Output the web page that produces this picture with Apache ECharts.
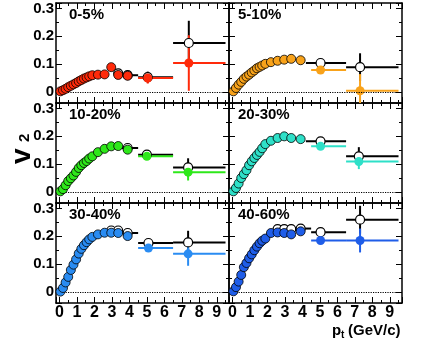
<!DOCTYPE html>
<html>
<head>
<meta charset="utf-8">
<script src="https://cdn.jsdelivr.net/npm/echarts@6/dist/echarts.min.js"></script>
<style>
html, body { margin: 0; padding: 0; background: #fff; }
#chart { width: 422px; height: 341px; }
</style>
</head>
<body>
<div id="chart"></div>
<script>
// pt of the low-pt filled points (GeV/c), same bins in every panel
var ptLow = [0.05, 0.2, 0.35, 0.5, 0.65, 0.8, 0.95, 1.1, 1.25, 1.4, 1.55, 1.7, 1.88, 2.2, 2.58, 2.96, 3.36, 3.9];

var centLabels = ["0-5%", "5-10%", "10-20%", "20-30%", "30-40%", "40-60%"];
var centColors = ["#ff2a0a", "#f8a21a", "#2ee81a", "#2ee0c8", "#2a8cf2", "#1f5de8"];

var xTicks = [0, 1, 2, 3, 4, 5, 6, 7, 8, 9];
var yTicks = [0, 0.1, 0.2, 0.3];

// v2 of filled points at ptLow
var v2Low0to5   = [0.002, 0.006, 0.011, 0.017, 0.022, 0.027, 0.032, 0.038, 0.043, 0.048, 0.052, 0.056, 0.060, 0.062, 0.063, 0.089, 0.061, 0.058];
var v2Low5to10  = [0.002, 0.014, 0.026, 0.036, 0.047, 0.055, 0.062, 0.070, 0.077, 0.085, 0.090, 0.095, 0.101, 0.107, 0.112, 0.116, 0.119, 0.114];
var v2Low10to20 = [0.002, 0.010, 0.024, 0.039, 0.049, 0.059, 0.072, 0.086, 0.096, 0.104, 0.111, 0.120, 0.128, 0.143, 0.155, 0.164, 0.165, 0.152];
var v2Low20to30 = [0.002, 0.014, 0.030, 0.050, 0.064, 0.078, 0.096, 0.110, 0.122, 0.133, 0.144, 0.157, 0.172, 0.184, 0.194, 0.200, 0.194, 0.190];
var v2Low30to40 = [0.001, 0.014, 0.034, 0.054, 0.079, 0.098, 0.117, 0.138, 0.155, 0.168, 0.179, 0.189, 0.198, 0.207, 0.213, 0.213, 0.212, 0.201];
var v2Low40to60 = [0.002, 0.017, 0.037, 0.061, 0.089, 0.104, 0.121, 0.135, 0.150, 0.163, 0.175, 0.184, 0.192, 0.212, 0.214, 0.212, 0.207, 0.218];

// high-pt filled points: [pt, v2, ptLo, ptHi, err]
var v2High0to5   = [[5.05, 0.050, 4.5, 6.5, 0.020], [7.4, 0.104, 6.5, 9.5, 0.100]];
var v2High5to10  = [[5.04, 0.079, 4.5, 6.5, 0.008], [7.3, 0.004, 6.5, 9.5, 0.060]];
var v2High10to20 = [[5.0, 0.128, 4.5, 6.5, 0.006], [7.36, 0.071, 6.5, 9.5, 0.030]];
var v2High20to30 = [[5.04, 0.164, 4.5, 6.5, 0.006], [7.23, 0.109, 6.5, 9.5, 0.027]];
var v2High30to40 = [[5.09, 0.158, 4.5, 6.5, 0.006], [7.36, 0.137, 6.5, 9.5, 0.043]];
var v2High40to60 = [[5.04, 0.185, 4.5, 6.5, 0.006], [7.3, 0.185, 6.5, 9.5, 0.043]];

// open points: [pt, v2, ptLo, ptHi, err]
var open0to5   = [[3.36, 0.067, 0, 0, 0], [3.9, 0.060, 3.5, 4.5, 0], [5.05, 0.053, 4.5, 6.5, 0.020], [7.4, 0.176, 6.5, 9.5, 0.080]];
var open5to10  = [[5.04, 0.104, 4.2, 6.5, 0.006], [7.3, 0.089, 6.5, 9.5, 0.050]];
var open10to20 = [[3.9, 0.158, 3.5, 4.5, 0], [5.0, 0.134, 4.5, 6.5, 0.005], [7.36, 0.088, 6.5, 9.5, 0.033]];
var open20to30 = [[5.04, 0.182, 4.2, 6.5, 0.005], [7.23, 0.128, 6.5, 9.5, 0.033]];
var open30to40 = [[2.96, 0.221, 0, 0, 0], [3.36, 0.221, 0, 0, 0], [3.9, 0.212, 3.5, 4.5, 0], [5.09, 0.176, 4.5, 6.5, 0.005], [7.36, 0.178, 6.5, 9.5, 0.042]];
var open40to60 = [[2.58, 0.226, 0, 0, 0], [2.96, 0.226, 0, 0, 0], [3.36, 0.226, 0, 0, 0], [3.9, 0.228, 3.5, 4.5, 0], [5.04, 0.215, 4.5, 6.5, 0.005], [7.3, 0.260, 6.5, 9.5, 0.050]];

var v2Low = [v2Low0to5, v2Low5to10, v2Low10to20, v2Low20to30, v2Low30to40, v2Low40to60];
var v2High = [v2High0to5, v2High5to10, v2High10to20, v2High20to30, v2High30to40, v2High40to60];
var openPts = [open0to5, open5to10, open10to20, open20to30, open30to40, open40to60];

var X_MIN = -0.2, X_MAX = 9.7, Y_MIN = -0.04, Y_MAX = 0.32;
var colLeft = [56, 229], rowTop = [3, 103, 203];
var FONT = "Liberation Sans";

function onList(v, list) {
  var r = Math.round(v * 1000) / 1000;
  return list.indexOf(r) >= 0;
}

function xAxis(i, pos, labels) {
  return {
    type: "value", gridIndex: i, position: pos, min: X_MIN, max: X_MAX, splitNumber: 10,
    axisLine: { show: true, onZero: false, lineStyle: { color: "#000", width: 1.5 } },
    axisTick: { show: true, inside: true, length: 6, lineStyle: { color: "#000", width: 1 } },
    minorTick: { show: true, splitNumber: 2, length: 3, lineStyle: { color: "#000", width: 1 } },
    splitLine: { show: false },
    axisLabel: {
      show: labels, color: "#000", fontSize: 16, fontWeight: "bold", fontFamily: FONT, margin: 2,
      formatter: function (v) { return onList(v, xTicks) ? String(Math.round(v)) : ""; }
    }
  };
}

function yAxis(i, pos, labels) {
  return {
    type: "value", gridIndex: i, position: pos, min: Y_MIN, max: Y_MAX,
    axisLine: { show: true, onZero: false, lineStyle: { color: "#000", width: 1.5 } },
    axisTick: { show: true, inside: true, length: 6, lineStyle: { color: "#000", width: 1 } },
    minorTick: { show: true, splitNumber: 2, length: 3, lineStyle: { color: "#000", width: 1 } },
    splitLine: { show: false },
    axisLabel: {
      show: labels, color: "#000", fontSize: 15, fontWeight: "bold", fontFamily: FONT, margin: 2,
      formatter: function (v) {
        if (!onList(v, yTicks)) return "";
        return Math.abs(v) < 1e-9 ? "0" : v.toFixed(1);
      }
    }
  };
}

function errSeries(i, data, color, z) {
  return {
    type: "custom", xAxisIndex: 2 * i, yAxisIndex: 2 * i, z: z, silent: true,
    dimensions: ["pt", "v2", "lo", "hi", "err"],
    encode: { x: 0, y: 1 },
    data: data,
    renderItem: function (params, api) {
      var x = api.value(0), y = api.value(1), lo = api.value(2), hi = api.value(3), e = api.value(4);
      var style = { stroke: color, lineWidth: 2 };
      var kids = [];
      if (hi > lo) {
        var a = api.coord([lo, y]), b = api.coord([hi, y]);
        kids.push({ type: "line", shape: { x1: a[0], y1: a[1], x2: b[0], y2: b[1] }, style: style });
      }
      if (e > 0) {
        var c = api.coord([x, Math.max(y - e, Y_MIN)]), d = api.coord([x, Math.min(y + e, Y_MAX)]);
        kids.push({ type: "line", shape: { x1: c[0], y1: c[1], x2: d[0], y2: d[1] }, style: style });
      }
      return { type: "group", children: kids };
    }
  };
}

var grids = [], xAxes = [], yAxes = [], series = [], titles = [];
for (var i = 0; i < 6; i++) {
  var col = i % 2, row = Math.floor(i / 2);
  grids.push({ left: colLeft[col], top: rowTop[row], width: 173, height: 100, outerBoundsMode: "none" });
  xAxes.push(xAxis(i, "bottom", row === 2));
  xAxes.push(xAxis(i, "top", false));
  yAxes.push(yAxis(i, "left", col === 0));
  yAxes.push(yAxis(i, "right", false));

  titles.push({
    text: centLabels[i], left: colLeft[col] + (col === 0 ? 13 : 9), top: rowTop[row] + 4, padding: 0,
    textStyle: { fontSize: 15, fontWeight: "bold", fontFamily: FONT, color: "#000" }
  });

  var color = centColors[i];
  series.push(errSeries(i, openPts[i], "#000", 1));
  series.push(errSeries(i, v2High[i], color, 2));
  series.push({
    type: "scatter", xAxisIndex: 2 * i, yAxisIndex: 2 * i, z: 3, symbol: "circle", symbolSize: 9,
    itemStyle: { color: "#fff", borderColor: "#000", borderWidth: 1.2, opacity: 1 },
    data: openPts[i].map(function (d) { return [d[0], d[1]]; }),
    markLine: {
      silent: true, symbol: "none", label: { show: false },
      lineStyle: { color: "#000", type: "dotted", width: 1.2 },
      data: [{ yAxis: 0 }]
    }
  });
  series.push({
    type: "scatter", xAxisIndex: 2 * i, yAxisIndex: 2 * i, z: 4, symbol: "circle", symbolSize: 9,
    itemStyle: { color: color, opacity: 1 },
    data: v2High[i].map(function (d) { return [d[0], d[1]]; })
  });
  series.push({
    type: "scatter", xAxisIndex: 2 * i, yAxisIndex: 2 * i, z: 5, symbol: "circle", symbolSize: 9,
    itemStyle: { color: color, borderColor: "#000", borderWidth: 0.8, opacity: 1 },
    data: ptLow.map(function (p, k) { return [p, v2Low[i][k]]; })
  });
}

var myChart = echarts.init(document.getElementById("chart"), null, { renderer: "canvas" });
myChart.setOption({
  animation: false,
  backgroundColor: "#fff",
  title: titles,
  grid: grids,
  xAxis: xAxes,
  yAxis: yAxes,
  series: series,
  graphic: [
    { type: "text", x: 8, y: 164, rotation: Math.PI / 2,
      style: { text: "v", fontSize: 28, fontWeight: "bold", fontFamily: FONT, fill: "#000" } },
    { type: "text", x: 17, y: 142, rotation: Math.PI / 2,
      style: { text: "2", fontSize: 15, fontWeight: "bold", fontFamily: FONT, fill: "#000" } },
    { type: "text", x: 332, y: 323,
      style: { text: "p", fontSize: 15, fontWeight: "bold", fontFamily: FONT, fill: "#000" } },
    { type: "text", x: 341, y: 330,
      style: { text: "t", fontSize: 10, fontWeight: "bold", fontFamily: FONT, fill: "#000" } },
    { type: "text", x: 348, y: 323,
      style: { text: "(GeV/c)", fontSize: 15, fontWeight: "bold", fontFamily: FONT, fill: "#000" } }
  ]
});
</script>
</body>
</html>
